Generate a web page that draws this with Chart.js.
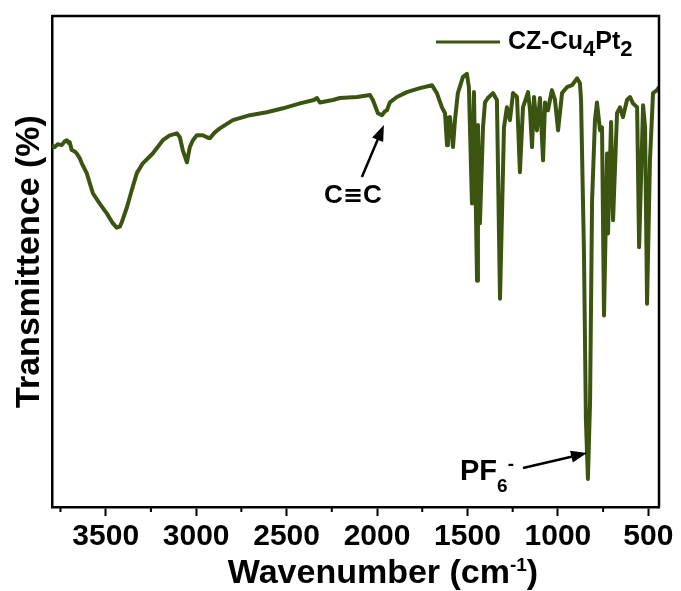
<!DOCTYPE html>
<html>
<head>
<meta charset="utf-8">
<script src="https://cdn.jsdelivr.net/npm/chart.js@4/dist/chart.umd.min.js"></script>
<style>
  html, body { margin: 0; padding: 0; background: #fff; }
  #wrap { width: 681px; height: 591px; }
</style>
</head>
<body>
<div id="wrap"><canvas id="ftir" width="681" height="591"></canvas></div>
<script>
// FTIR spectrum of CZ-Cu4Pt2 (wavenumber in cm-1, transmittance in %)
const wavenumber = [
  3798, 3782, 3765, 3743, 3726, 3715, 3704, 3699, 3688, 3671, 3660, 3643, 3632, 3605, 3571, 3533,
  3494, 3461, 3439, 3422, 3411, 3383, 3356, 3328, 3295, 3240, 3184, 3146, 3107, 3090, 3074, 3051,
  3035, 3018, 2996, 2963, 2941, 2924, 2897, 2869, 2797, 2703, 2609, 2520, 2426, 2349, 2332, 2316,
  2244, 2205, 2111, 2039, 2023, 1995, 1973, 1956, 1945, 1929, 1890, 1835, 1763, 1696, 1669, 1641,
  1624, 1613, 1608, 1597, 1580, 1569, 1553, 1525, 1503, 1492, 1475, 1464, 1447, 1442, 1431, 1414,
  1403, 1387, 1359, 1337, 1320, 1298, 1282, 1265, 1248, 1226, 1210, 1193, 1165, 1154, 1143, 1132,
  1116, 1099, 1082, 1071, 1055, 1033, 1016, 999, 977, 950, 922, 894, 878, 872, 856, 845,
  834, 822, 811, 795, 784, 767, 756, 745, 728, 723, 706, 695, 673, 657, 640, 618,
  601, 585, 562, 551, 529, 518, 507, 491, 474, 452, 441
];
const transmittance = [
  73.7, 73.3, 73.9, 73.7, 74.5, 74.7, 74.1, 74.3, 72.7, 72.4, 72.0, 71.0, 70.0, 68.0, 63.9, 61.8,
  59.8, 57.8, 56.9, 57.1, 58.0, 61.0, 64.5, 68.0, 70.0, 72.0, 74.7, 75.7, 76.1, 75.3, 72.7, 70.2,
  73.3, 74.7, 75.7, 75.7, 75.3, 75.1, 76.3, 77.1, 78.8, 79.8, 80.4, 81.2, 82.2, 82.9, 83.3, 82.4,
  82.9, 83.3, 83.5, 83.9, 82.9, 80.2, 79.8, 80.6, 80.8, 82.4, 83.5, 84.5, 85.3, 85.9, 84.3, 81.4,
  80.2, 73.7, 79.2, 79.4, 73.3, 78.8, 84.3, 87.6, 88.2, 85.5, 61.8, 84.5, 46.1, 77.8, 57.8, 77.3,
  82.4, 83.3, 84.3, 82.9, 42.4, 77.3, 81.4, 78.8, 84.3, 83.5, 68.2, 81.4, 84.5, 80.8, 73.3, 83.5,
  76.7, 83.3, 70.6, 82.4, 80.8, 84.9, 82.9, 76.7, 84.3, 85.5, 85.9, 87.3, 86.3, 82.9, 52.2, 17.6,
  5.7, 21.6, 62.4, 78.8, 82.4, 76.7, 77.3, 39.0, 72.0, 55.7, 78.4, 58.4, 80.2, 81.4, 79.4, 82.9,
  83.5, 82.2, 81.4, 52.9, 81.8, 77.3, 41.4, 70.6, 84.3, 84.9, 85.5
];
const xTicks = [3500, 3000, 2500, 2000, 1500, 1000, 500];
const xMinorTicks = [3750, 3250, 2750, 2250, 1750, 1250, 750];

const lineColor = "#3b5511";
const fontFamily = "'Liberation Sans', Arial, sans-serif";
const symbolFont = "'DejaVu Sans', sans-serif";

// rich text: list of [text, size, baseline shift, font family]
const seriesName = [["CZ-Cu", 25, 0], ["4", 22, 7], ["Pt", 25, 0], ["2", 22, 7]];
const xTitle = [["Wavenumber (cm", 34, 0], ["-1", 19, -12], [")", 34, 0]];
const tripleBondLabel = [["C", 26, 0], ["\u2261", 24, 0, symbolFont], ["C", 26, 0]];
const pf6Label = [["PF", 29, 0], ["6", 19, 12], ["-", 19, -10]];

function setFont(ctx, p) {
  ctx.font = `bold ${p[1]}px ${p[3] || fontFamily}`;
}

function richWidth(ctx, parts) {
  let w = 0;
  parts.forEach((p) => {
    setFont(ctx, p);
    w += ctx.measureText(p[0]).width;
  });
  return w;
}

function drawRich(ctx, parts, x, y) {
  ctx.textBaseline = "alphabetic";
  ctx.textAlign = "left";
  ctx.fillStyle = "#000";
  parts.forEach((p) => {
    setFont(ctx, p);
    ctx.fillText(p[0], x, y + p[2]);
    x += ctx.measureText(p[0]).width;
  });
}

function drawArrow(ctx, x1, y1, x2, y2) {
  const ang = Math.atan2(y2 - y1, x2 - x1);
  const head = 16;
  const half = 6;
  ctx.strokeStyle = "#000";
  ctx.fillStyle = "#000";
  ctx.lineWidth = 2.5;
  ctx.beginPath();
  ctx.moveTo(x1, y1);
  ctx.lineTo(x2 - Math.cos(ang) * head * 0.8, y2 - Math.sin(ang) * head * 0.8);
  ctx.stroke();
  ctx.beginPath();
  ctx.moveTo(x2, y2);
  ctx.lineTo(x2 - Math.cos(ang) * head - Math.sin(ang) * half, y2 - Math.sin(ang) * head + Math.cos(ang) * half);
  ctx.lineTo(x2 - Math.cos(ang) * head + Math.sin(ang) * half, y2 - Math.sin(ang) * head - Math.cos(ang) * half);
  ctx.closePath();
  ctx.fill();
}

// box, minor ticks, axis title, legend and peak labels
const decorations = {
  id: "decorations",
  afterDraw(chart) {
    const ctx = chart.ctx;
    const area = chart.chartArea;
    const xs = chart.scales.x;
    const ys = chart.scales.y;
    ctx.save();

    // top and right side of the frame
    ctx.strokeStyle = "#000";
    ctx.lineWidth = 2.5;
    ctx.beginPath();
    ctx.moveTo(area.left, area.top);
    ctx.lineTo(area.right, area.top);
    ctx.lineTo(area.right, area.bottom);
    ctx.stroke();

    // minor ticks
    ctx.lineWidth = 2;
    xMinorTicks.forEach((v) => {
      const px = xs.getPixelForValue(v);
      ctx.beginPath();
      ctx.moveTo(px, area.bottom);
      ctx.lineTo(px, area.bottom + 5);
      ctx.stroke();
    });

    // x axis title
    const tw = richWidth(ctx, xTitle);
    drawRich(ctx, xTitle, 383 - tw / 2, 583);

    // legend
    ctx.strokeStyle = lineColor;
    ctx.lineWidth = 3;
    ctx.beginPath();
    ctx.moveTo(area.right - 223, area.top + 26);
    ctx.lineTo(area.right - 159, area.top + 26);
    ctx.stroke();
    drawRich(ctx, seriesName, area.right - 151, area.top + 33);

    // C≡C band
    const cx = xs.getPixelForValue(1962);
    const cy = ys.getPixelForValue(77.8);
    drawArrow(ctx, cx - 22, cy + 52, cx, cy);
    const cw = richWidth(ctx, tripleBondLabel);
    drawRich(ctx, tripleBondLabel, cx - 31 - cw / 2, cy + 78);

    // PF6- band
    const px = xs.getPixelForValue(839);
    const py = ys.getPixelForValue(11.0);
    drawArrow(ctx, px - 64, py + 15, px, py);
    drawRich(ctx, pf6Label, px - 127, py + 27);

    ctx.restore();
  }
};

new Chart(document.getElementById("ftir"), {
  type: "line",
  data: {
    datasets: [{
      label: "CZ-Cu4Pt2",
      data: wavenumber.map((w, i) => ({ x: w, y: transmittance[i] })),
      borderColor: lineColor,
      borderWidth: 4,
      borderJoinStyle: "round",
      pointRadius: 0,
      tension: 0,
      fill: false
    }]
  },
  options: {
    responsive: false,
    animation: false,
    layout: { padding: { left: 3, right: 22, top: 16, bottom: 33 } },
    plugins: {
      legend: { display: false },
      tooltip: { enabled: false }
    },
    scales: {
      x: {
        type: "linear",
        reverse: true,
        min: 441,
        max: 3798,
        afterBuildTicks: (scale) => {
          scale.ticks = xTicks.map((v) => ({ value: v }));
        },
        ticks: {
          color: "#000",
          autoSkip: false,
          maxRotation: 0,
          padding: 3,
          callback: (v) => String(v),
          font: { family: fontFamily, size: 30, weight: "bold" }
        },
        grid: {
          display: true,
          drawOnChartArea: false,
          tickLength: 9,
          tickWidth: 2,
          tickColor: "#000"
        },
        border: { color: "#000", width: 2.5 }
      },
      y: {
        min: 0,
        max: 100,
        ticks: { display: false },
        grid: { display: false, drawTicks: false },
        border: { color: "#000", width: 2.5 },
        title: {
          display: true,
          text: "Transmittence (%)",
          color: "#000",
          padding: { top: 6, bottom: 2 },
          font: { family: fontFamily, size: 34, weight: "bold" }
        }
      }
    }
  },
  plugins: [decorations]
});
</script>
</body>
</html>
